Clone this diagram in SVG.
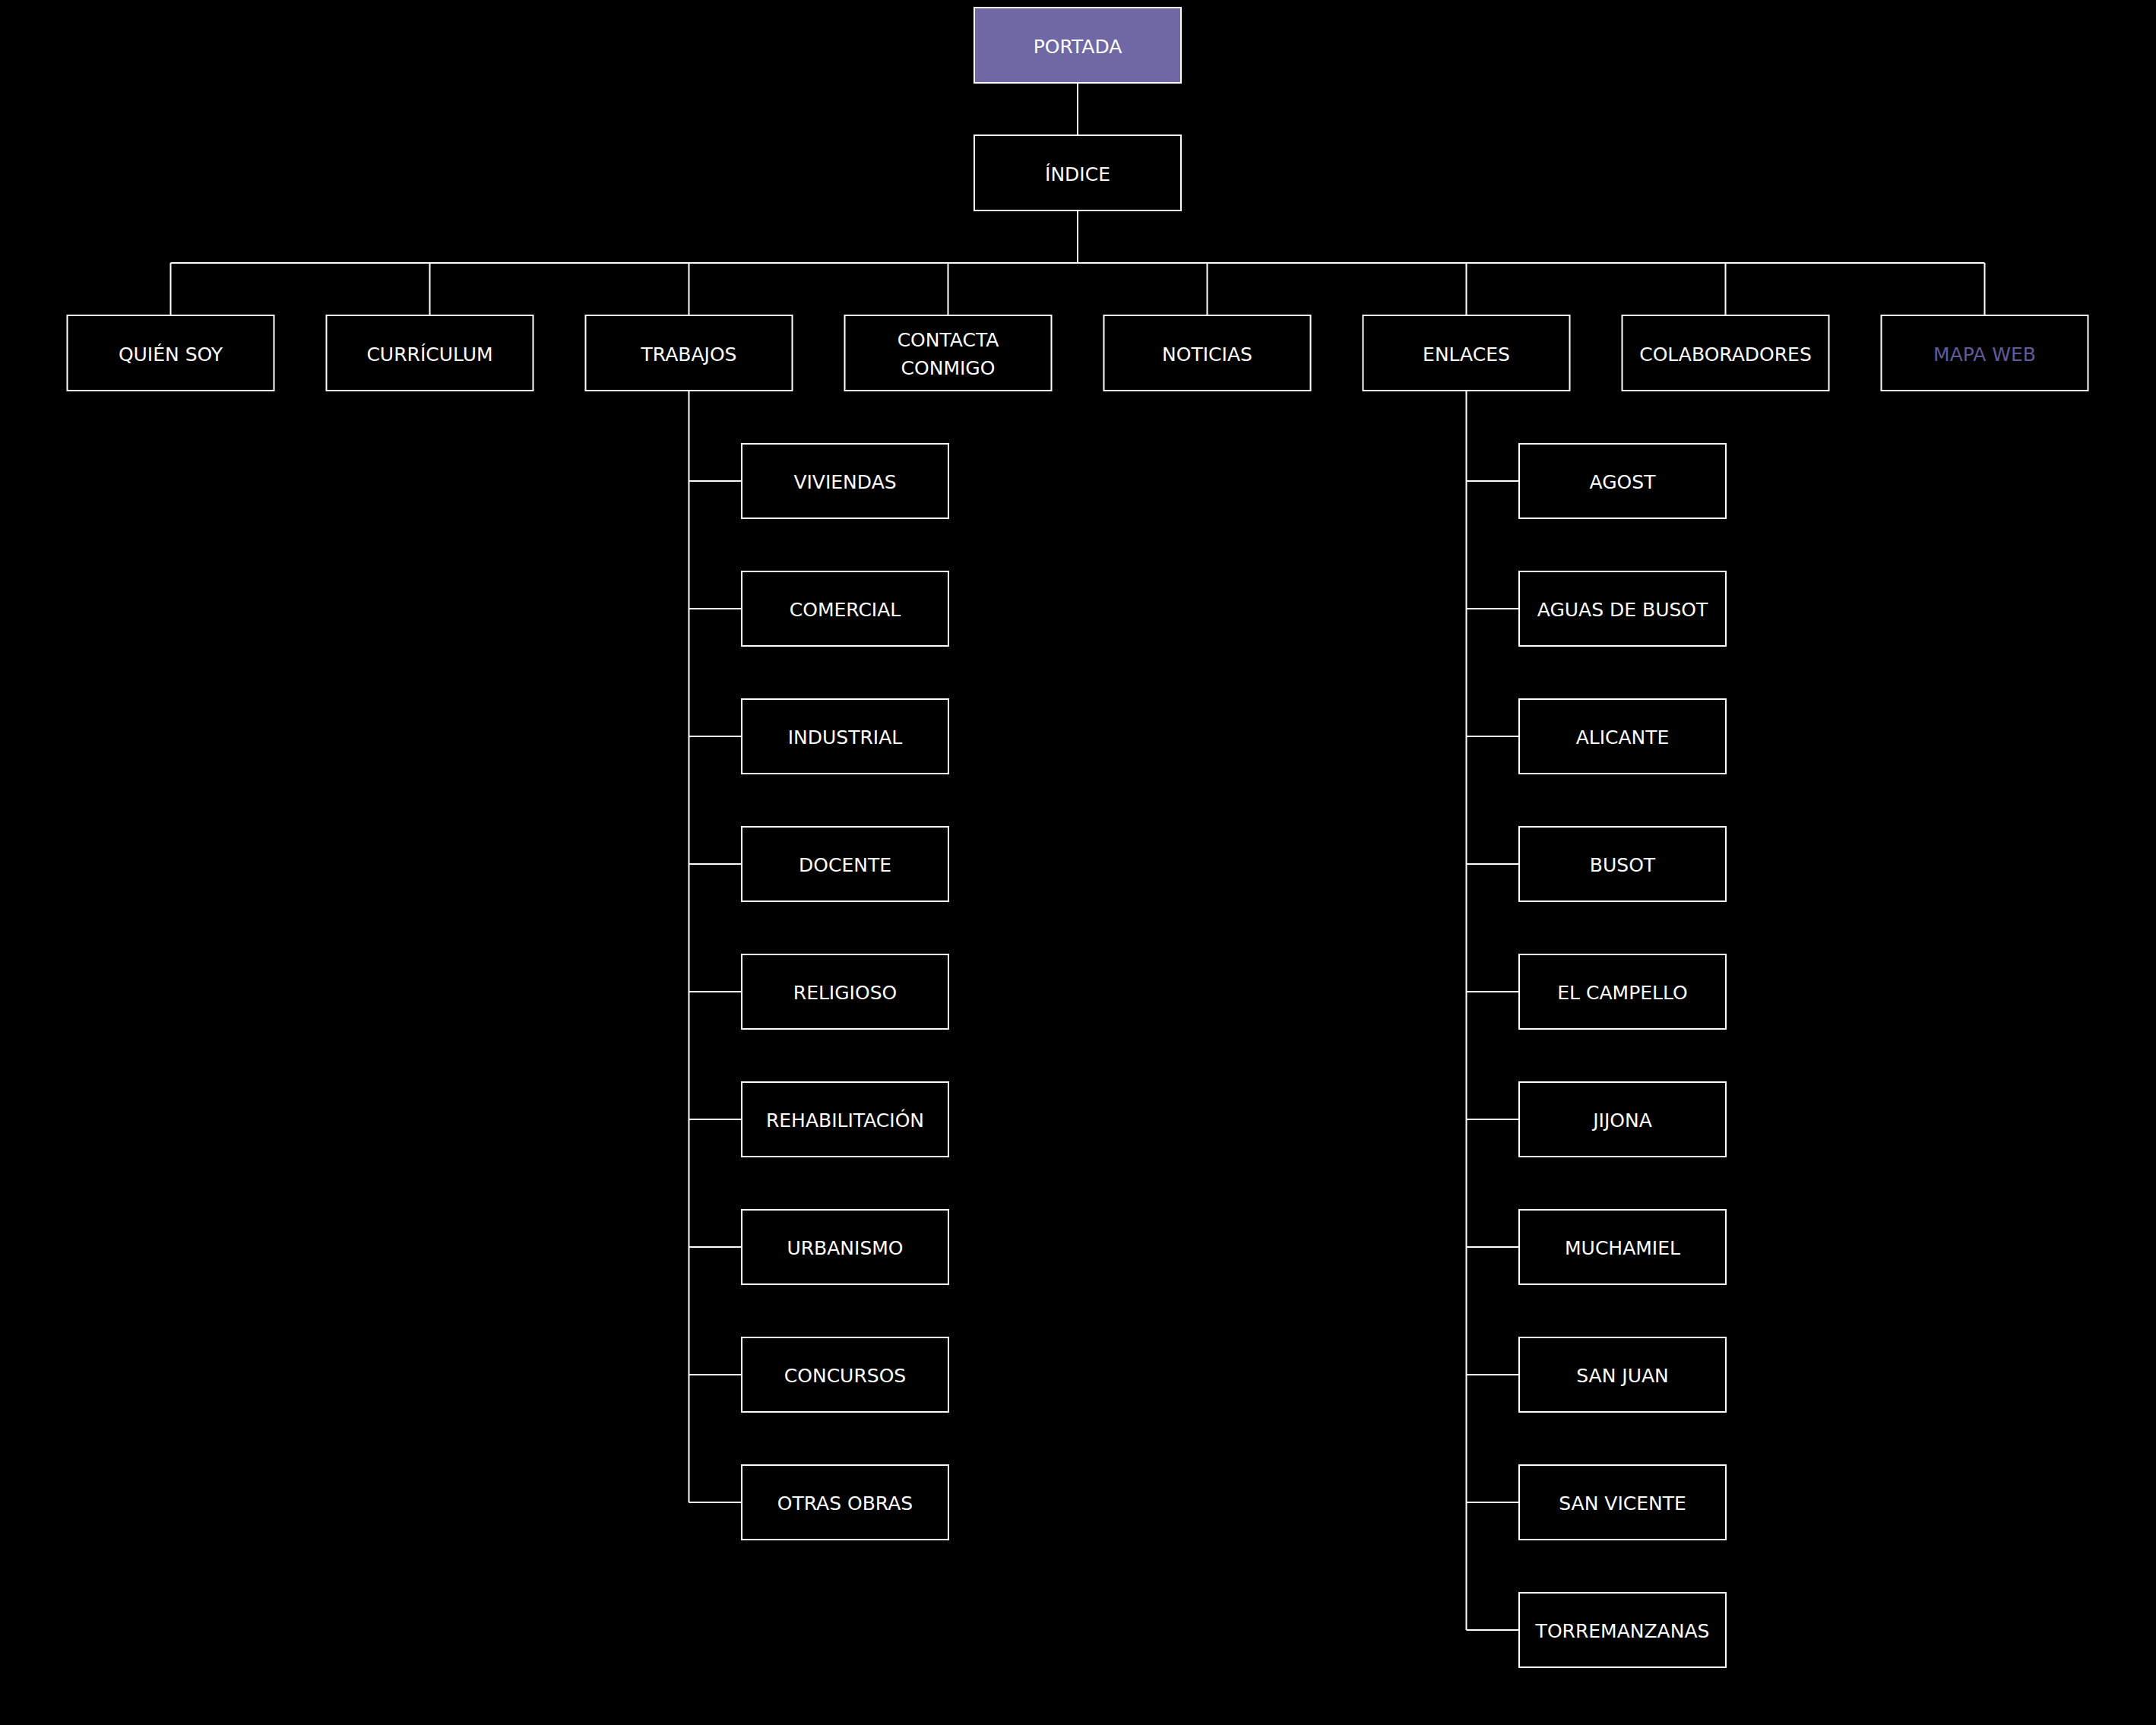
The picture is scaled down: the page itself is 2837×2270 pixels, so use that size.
<svg xmlns="http://www.w3.org/2000/svg" width="2837" height="2270" viewBox="0 0 2837 2270">
<style>
.box{fill:#000;stroke:#fff;stroke-width:2}
.top{fill:#7068a4;stroke:#fff;stroke-width:2}
.lbl{font-family:"DejaVu Sans","Liberation Sans",sans-serif;font-size:25px;fill:#fff;text-anchor:middle}
.purple{fill:#625a98}
.conn{stroke:#fff;stroke-width:2;fill:none}
</style>
<rect width="2837" height="2270" fill="#000"/>
<g id="connectors">
<path class="conn" d="M1418 109V178M1418 277V346M224.5 346H2611.5M224.5 346V415M565.5 346V415M906.5 346V415M1247.5 346V415M1588.5 346V415M1929.5 346V415M2270.5 346V415M2611.5 346V415"/>
<path class="conn" d="M906.5 514V1977M906.5 633H976M906.5 801H976M906.5 969H976M906.5 1137H976M906.5 1305H976M906.5 1473H976M906.5 1641H976M906.5 1809H976M906.5 1977H976"/>
<path class="conn" d="M1929.5 514V2145M1929.5 633H1999M1929.5 801H1999M1929.5 969H1999M1929.5 1137H1999M1929.5 1305H1999M1929.5 1473H1999M1929.5 1641H1999M1929.5 1809H1999M1929.5 1977H1999M1929.5 2145H1999"/>
</g>
<g id="portada"><rect class="top" x="1282" y="10" width="272" height="99"/><text class="lbl" x="1418" y="70">PORTADA</text></g>
<g id="indice"><rect class="box" x="1282" y="178" width="272" height="99"/><text class="lbl" x="1418" y="238">ÍNDICE</text></g>
<g id="quien-soy"><rect class="box" x="88.5" y="415" width="272" height="99"/><text class="lbl" x="224.5" y="475">QUIÉN SOY</text></g>
<g id="curriculum"><rect class="box" x="429.5" y="415" width="272" height="99"/><text class="lbl" x="565.5" y="475">CURRÍCULUM</text></g>
<g id="trabajos"><rect class="box" x="770.5" y="415" width="272" height="99"/><text class="lbl" x="906.5" y="475">TRABAJOS</text></g>
<g id="contacta"><rect class="box" x="1111.5" y="415" width="272" height="99"/><text class="lbl" x="1247.5" y="456">CONTACTA</text><text class="lbl" x="1247.5" y="493">CONMIGO</text></g>
<g id="noticias"><rect class="box" x="1452.5" y="415" width="272" height="99"/><text class="lbl" x="1588.5" y="475">NOTICIAS</text></g>
<g id="enlaces"><rect class="box" x="1793.5" y="415" width="272" height="99"/><text class="lbl" x="1929.5" y="475">ENLACES</text></g>
<g id="colaboradores"><rect class="box" x="2134.5" y="415" width="272" height="99"/><text class="lbl" x="2270.5" y="475">COLABORADORES</text></g>
<g id="mapa-web"><rect class="box" x="2475.5" y="415" width="272" height="99"/><text class="lbl purple" x="2611.5" y="475">MAPA WEB</text></g>
<g id="viviendas"><rect class="box" x="976" y="584" width="272" height="98"/><text class="lbl" x="1112" y="643">VIVIENDAS</text></g>
<g id="comercial"><rect class="box" x="976" y="752" width="272" height="98"/><text class="lbl" x="1112" y="811">COMERCIAL</text></g>
<g id="industrial"><rect class="box" x="976" y="920" width="272" height="98"/><text class="lbl" x="1112" y="979">INDUSTRIAL</text></g>
<g id="docente"><rect class="box" x="976" y="1088" width="272" height="98"/><text class="lbl" x="1112" y="1147">DOCENTE</text></g>
<g id="religioso"><rect class="box" x="976" y="1256" width="272" height="98"/><text class="lbl" x="1112" y="1315">RELIGIOSO</text></g>
<g id="rehabilitacion"><rect class="box" x="976" y="1424" width="272" height="98"/><text class="lbl" x="1112" y="1483">REHABILITACIÓN</text></g>
<g id="urbanismo"><rect class="box" x="976" y="1592" width="272" height="98"/><text class="lbl" x="1112" y="1651">URBANISMO</text></g>
<g id="concursos"><rect class="box" x="976" y="1760" width="272" height="98"/><text class="lbl" x="1112" y="1819">CONCURSOS</text></g>
<g id="otras-obras"><rect class="box" x="976" y="1928" width="272" height="98"/><text class="lbl" x="1112" y="1987">OTRAS OBRAS</text></g>
<g id="agost"><rect class="box" x="1999" y="584" width="272" height="98"/><text class="lbl" x="2135" y="643">AGOST</text></g>
<g id="aguas-de-busot"><rect class="box" x="1999" y="752" width="272" height="98"/><text class="lbl" x="2135" y="811">AGUAS DE BUSOT</text></g>
<g id="alicante"><rect class="box" x="1999" y="920" width="272" height="98"/><text class="lbl" x="2135" y="979">ALICANTE</text></g>
<g id="busot"><rect class="box" x="1999" y="1088" width="272" height="98"/><text class="lbl" x="2135" y="1147">BUSOT</text></g>
<g id="el-campello"><rect class="box" x="1999" y="1256" width="272" height="98"/><text class="lbl" x="2135" y="1315">EL CAMPELLO</text></g>
<g id="jijona"><rect class="box" x="1999" y="1424" width="272" height="98"/><text class="lbl" x="2135" y="1483">JIJONA</text></g>
<g id="muchamiel"><rect class="box" x="1999" y="1592" width="272" height="98"/><text class="lbl" x="2135" y="1651">MUCHAMIEL</text></g>
<g id="san-juan"><rect class="box" x="1999" y="1760" width="272" height="98"/><text class="lbl" x="2135" y="1819">SAN JUAN</text></g>
<g id="san-vicente"><rect class="box" x="1999" y="1928" width="272" height="98"/><text class="lbl" x="2135" y="1987">SAN VICENTE</text></g>
<g id="torremanzanas"><rect class="box" x="1999" y="2096" width="272" height="98"/><text class="lbl" x="2135" y="2155">TORREMANZANAS</text></g>
</svg>
